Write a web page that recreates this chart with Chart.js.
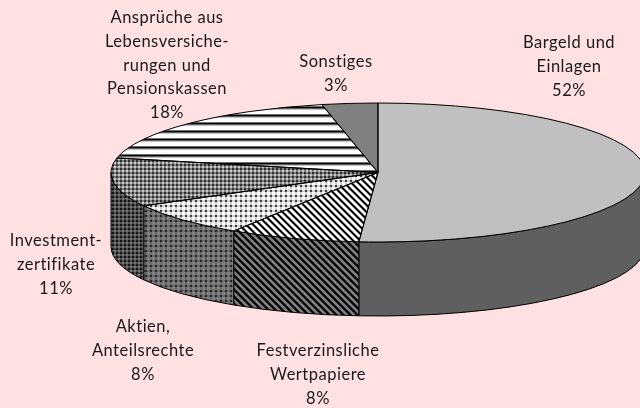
<!DOCTYPE html>
<html>
<head>
<meta charset="utf-8">
<style>
html, body { margin: 0; padding: 0; background: #ffe1e3; overflow: hidden; }
canvas { display: block; }
</style>
<script src="https://cdn.jsdelivr.net/npm/chart.js@4"></script>
</head>
<body>
<canvas id="chart" width="640" height="408"></canvas>
<script>
const categories = ['Bargeld und Einlagen', 'Festverzinsliche Wertpapiere', 'Aktien, Anteilsrechte', 'Investmentzertifikate', 'Ansprüche aus Lebensversicherungen und Pensionskassen', 'Sonstiges'];
// they round to the printed percentages
const shares = [51.5, 8, 8, 11.4, 18.4, 3.4];
const labelLines = [
    ['Bargeld und', 'Einlagen'],
    ['Festverzinsliche', 'Wertpapiere'],
    ['Aktien,', 'Anteilsrechte'],
    ['Investment-', 'zertifikate'],
    ['Ansprüche aus', 'Lebensversiche-', 'rungen und', 'Pensionskassen'],
    ['Sonstiges']
];

const labelPos = [[569, 43], [318, 351], [143, 327], [56, 241], [167, 18], [336, 62]];
const pie = { cx: 378, cy: 172.5, rx: 267, ry: 69.5, depth: 74 };

function makeTile(size, colorAt) {
    const tile = document.createElement('canvas');
    tile.width = tile.height = size;
    const c = tile.getContext('2d');
    for (let y = 0; y < size; y++) {
        for (let x = 0; x < size; x++) {
            c.fillStyle = colorAt(x, y);
            c.fillRect(x, y, 1, 1);
        }
    }
    return document.createElement('canvas').getContext('2d').createPattern(tile, 'repeat');
}

function stripes(dark, mid, light) {
    return makeTile(7, (x, y) => [dark, dark, mid, light, light, light, mid][(x - y + 70) % 7]);
}
function dots(period, dot, edge, rest) {
    return makeTile(period, (x, y) => {
        if (x % period < 2 && y % period < 2) return dot;
        if (x % period < 2 || y % period < 2) return edge;
        return rest;
    });
}

const topFills = [
    '#c0c0c0',
    stripes('#000000', '#808080', '#ffffff'),
    dots(5, '#404040', '#d0d0d0', '#ffffff'),
    dots(4, '#303030', '#808080', '#c8c8c8'),
    makeTile(8, (x, y) => ['#ffffff', '#ffffff', '#707070', '#000000', '#606060', '#c0c0c0', '#ffffff', '#ffffff'][y]),
    '#808080'
];
const wallFills = [
    '#5f5f5f',
    stripes('#000000', '#303030', '#808080'),
    dots(5, '#282828', '#686868', '#808080'),
    dots(4, '#181818', '#4c4c4c', '#787878'),
    '#808080',
    '#404040'
];

function sidePath(ctx, from, to) {
    ctx.beginPath();
    ctx.ellipse(pie.cx, pie.cy, pie.rx, pie.ry, 0, from, to);
    ctx.ellipse(pie.cx, pie.cy + pie.depth, pie.rx, pie.ry, 0, to, from, true);
    ctx.closePath();
}

const pie3d = {
    id: 'pie3d',
    beforeDatasetsDraw(chart) {
        const ctx = chart.ctx;
        const arcs = chart.getDatasetMeta(0).data;
        // the side walls, only the part of each slice facing the viewer
        ctx.save();
        ctx.lineWidth = 1;
        ctx.strokeStyle = '#000000';
        arcs.forEach((arc, i) => {
            const from = Math.max(arc.startAngle, 0);
            const to = Math.min(arc.endAngle, Math.PI);
            if (to <= from) return;
            sidePath(ctx, from, to);
            ctx.fillStyle = wallFills[i];
            ctx.fill();
            ctx.stroke();
        });
        ctx.restore();

        // squash the library's round pie to the tilted ellipse
        const arc = arcs[0];
        ctx.save();
        ctx.translate(pie.cx, pie.cy);
        ctx.scale(pie.rx / arc.outerRadius, pie.ry / arc.outerRadius);
        ctx.translate(-arc.x, -arc.y);
        const undo = ctx.getTransform().inverse();
        topFills.forEach(fill => {
            if (fill instanceof CanvasPattern) fill.setTransform(undo);
        });
    },
    afterDatasetsDraw(chart) {
        const ctx = chart.ctx;
        ctx.restore();
        ctx.save();
        ctx.lineWidth = 1;
        ctx.strokeStyle = '#000000';
        chart.getDatasetMeta(0).data.forEach(arc => {
            ctx.beginPath();
            ctx.moveTo(pie.cx, pie.cy);
            ctx.ellipse(pie.cx, pie.cy, pie.rx, pie.ry, 0, arc.startAngle, arc.endAngle);
            ctx.closePath();
            ctx.stroke();
        });
        ctx.restore();
    },
    afterDraw(chart) {
        const ctx = chart.ctx;
        ctx.save();
        ctx.font = '16.5px Lato';
        ctx.letterSpacing = '0.5px';
        ctx.fillStyle = '#1a1a1a';
        ctx.textAlign = 'center';
        ctx.textBaseline = 'middle';
        labelLines.forEach((lines, i) => {
            const rows = lines.concat(Math.round(shares[i]) + '%');
            rows.forEach((row, r) => ctx.fillText(row, labelPos[i][0], labelPos[i][1] + r * 23.7));
        });
        ctx.restore();
    }
};

new Chart(document.getElementById('chart'), {
    type: 'pie',
    data: {
        labels: categories,
        datasets: [{
            data: shares,
            backgroundColor: topFills,
            borderWidth: 0
        }]
    },
    options: {
        responsive: false,
        animation: false,
        plugins: {
            legend: { display: false },
            tooltip: { enabled: false }
        }
    },
    plugins: [pie3d]
});
</script>
</body>
</html>
